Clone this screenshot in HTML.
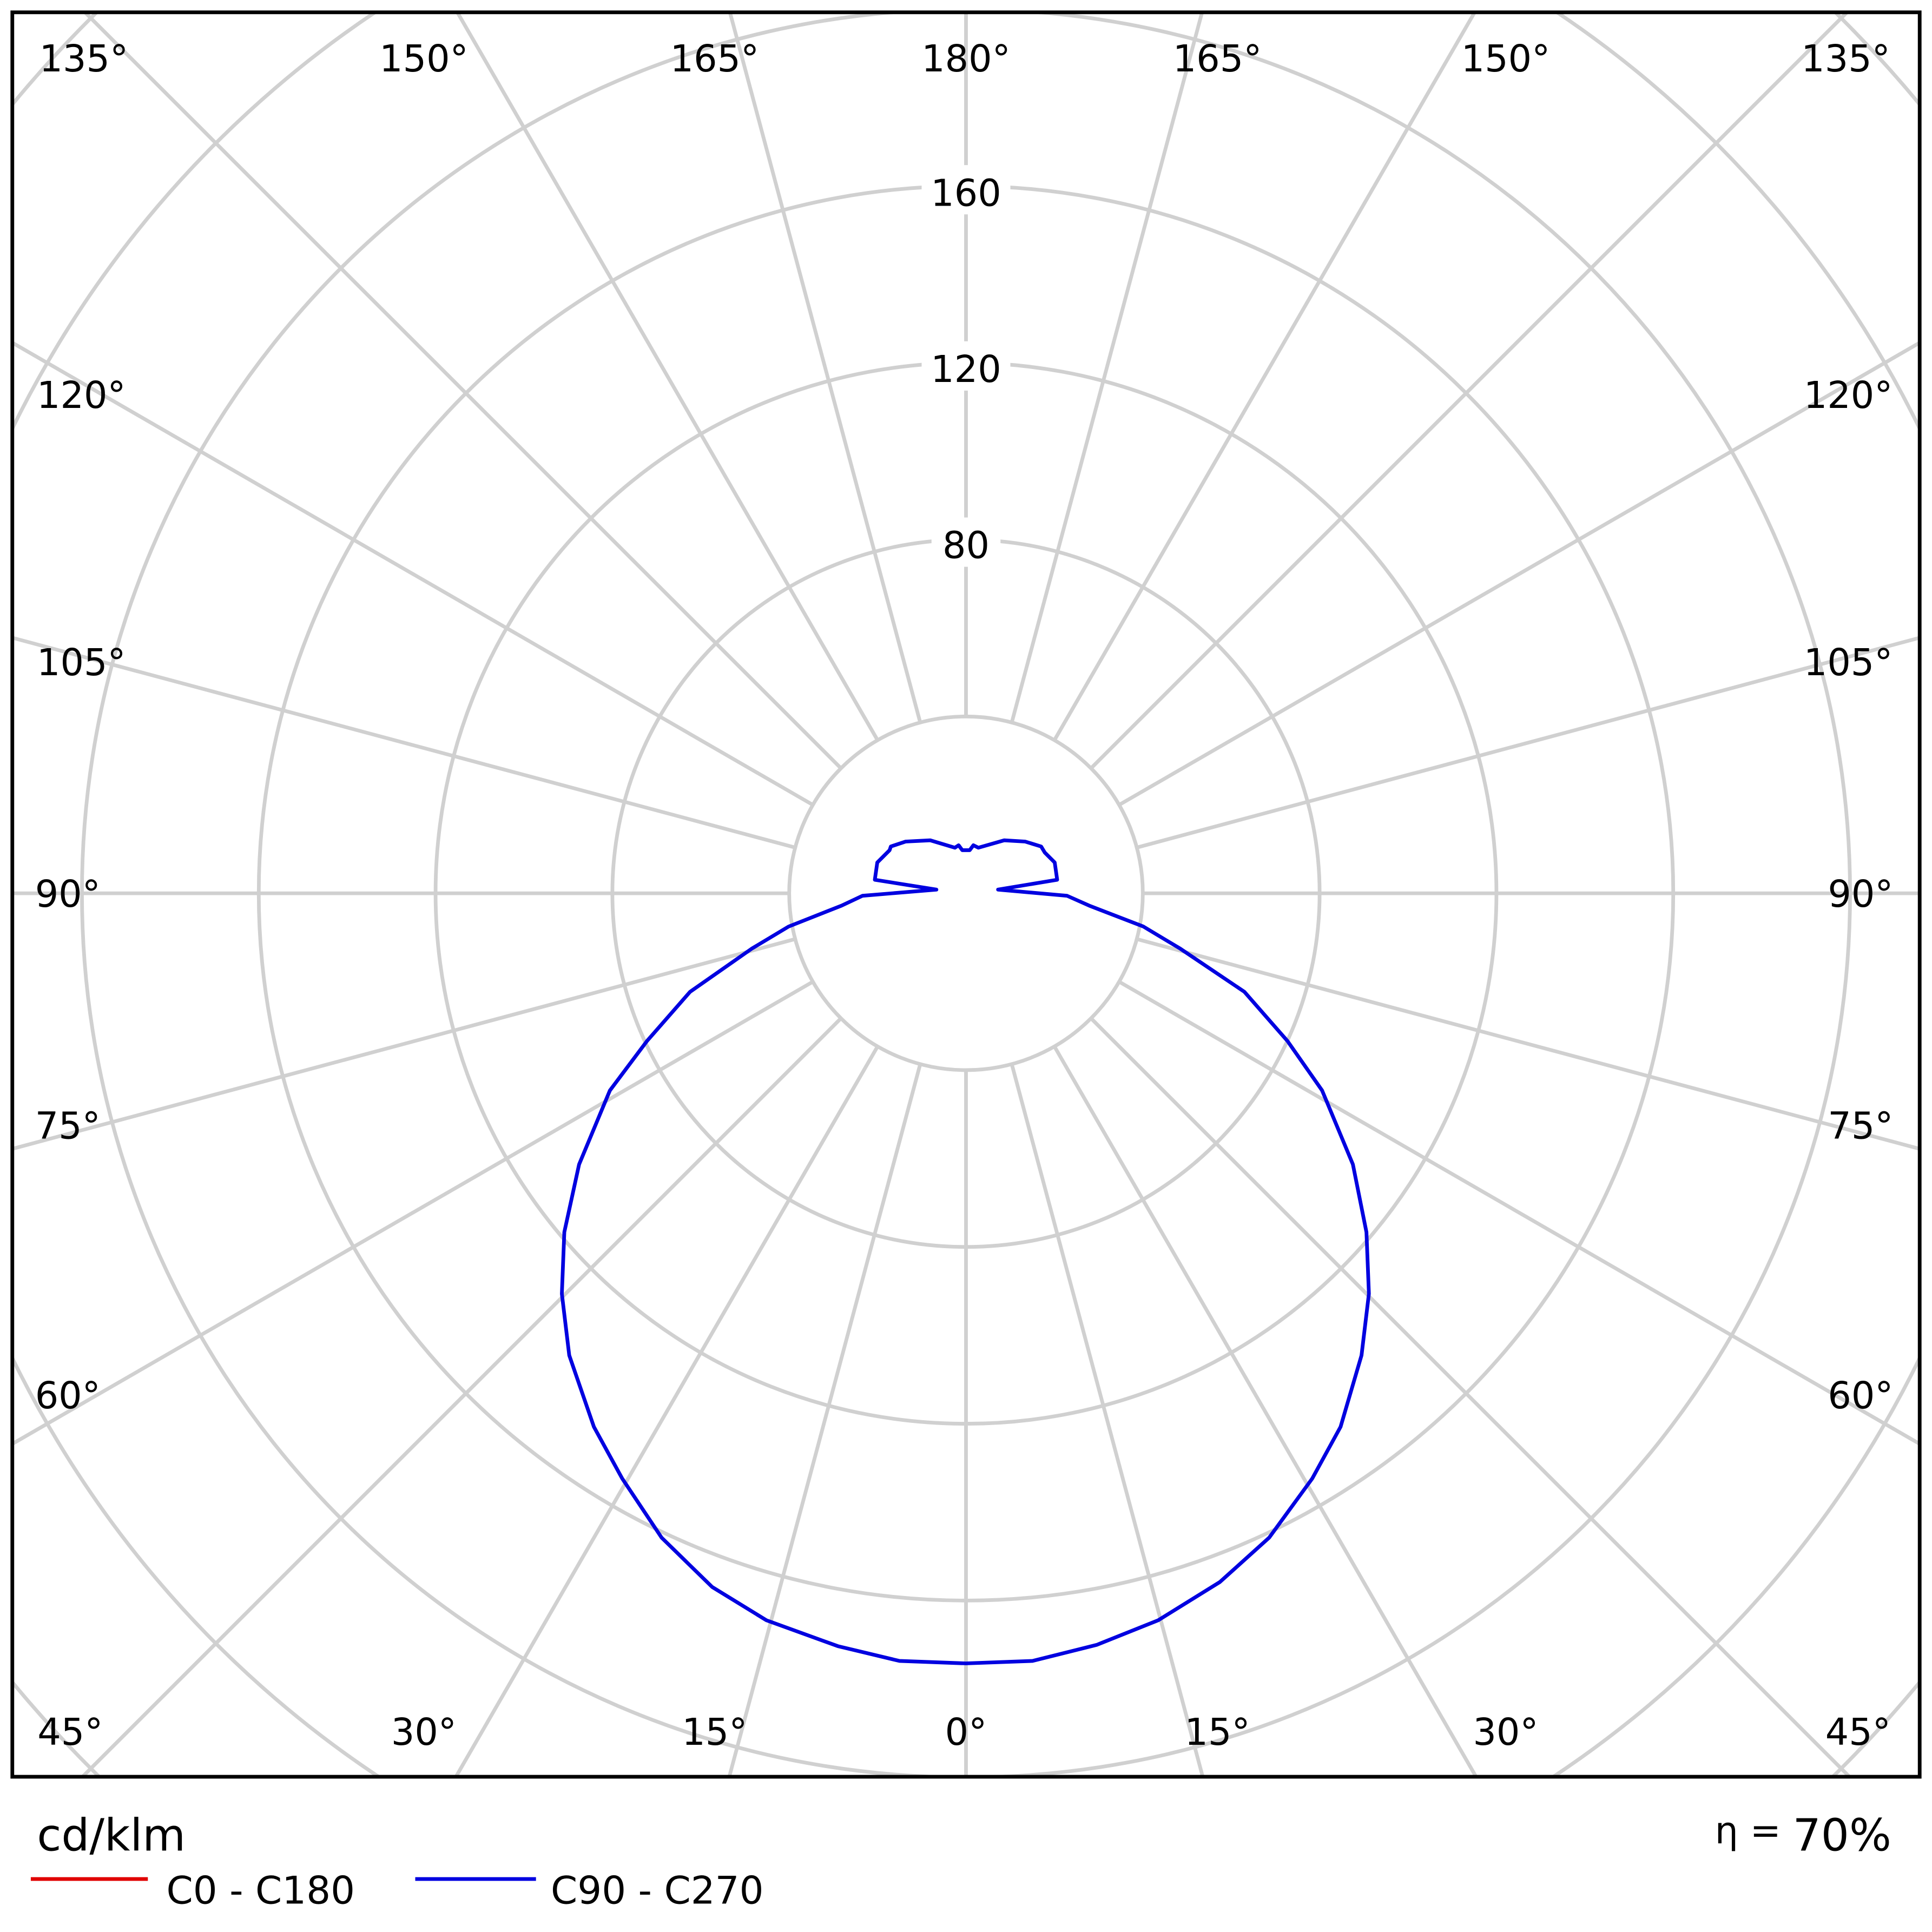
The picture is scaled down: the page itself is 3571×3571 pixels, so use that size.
<!DOCTYPE html>
<html><head><style>html,body{margin:0;padding:0;background:#fff;width:3571px;height:3571px;overflow:hidden;position:relative}svg{display:block;position:absolute;left:0;top:0}</style></head>
<body>
<svg xmlns="http://www.w3.org/2000/svg" width="3571" height="3571" viewBox="0 0 1568 1568">
<defs><clipPath id="c"><rect x="10" y="10" width="1548" height="1432"/></clipPath></defs>
<rect width="1568" height="1568" fill="#fff"/>
<g clip-path="url(#c)" stroke="#d0d0d0" stroke-width="3" fill="none">
<g transform="translate(784,725)">
<circle r="143.5"/><circle r="287"/><circle r="430.5"/><circle r="574"/><circle r="717.5"/><circle r="861"/><circle r="1004.5"/>
<g>
<line x1="0" y1="143.5" x2="0" y2="1300" transform="rotate(0)"/>
<line x1="0" y1="143.5" x2="0" y2="1300" transform="rotate(15)"/>
<line x1="0" y1="143.5" x2="0" y2="1300" transform="rotate(30)"/>
<line x1="0" y1="143.5" x2="0" y2="1300" transform="rotate(45)"/>
<line x1="0" y1="143.5" x2="0" y2="1300" transform="rotate(60)"/>
<line x1="0" y1="143.5" x2="0" y2="1300" transform="rotate(75)"/>
<line x1="0" y1="143.5" x2="0" y2="1300" transform="rotate(90)"/>
<line x1="0" y1="143.5" x2="0" y2="1300" transform="rotate(105)"/>
<line x1="0" y1="143.5" x2="0" y2="1300" transform="rotate(120)"/>
<line x1="0" y1="143.5" x2="0" y2="1300" transform="rotate(135)"/>
<line x1="0" y1="143.5" x2="0" y2="1300" transform="rotate(150)"/>
<line x1="0" y1="143.5" x2="0" y2="1300" transform="rotate(165)"/>
<line x1="0" y1="143.5" x2="0" y2="1300" transform="rotate(180)"/>
<line x1="0" y1="143.5" x2="0" y2="1300" transform="rotate(195)"/>
<line x1="0" y1="143.5" x2="0" y2="1300" transform="rotate(210)"/>
<line x1="0" y1="143.5" x2="0" y2="1300" transform="rotate(225)"/>
<line x1="0" y1="143.5" x2="0" y2="1300" transform="rotate(240)"/>
<line x1="0" y1="143.5" x2="0" y2="1300" transform="rotate(255)"/>
<line x1="0" y1="143.5" x2="0" y2="1300" transform="rotate(270)"/>
<line x1="0" y1="143.5" x2="0" y2="1300" transform="rotate(285)"/>
<line x1="0" y1="143.5" x2="0" y2="1300" transform="rotate(300)"/>
<line x1="0" y1="143.5" x2="0" y2="1300" transform="rotate(315)"/>
<line x1="0" y1="143.5" x2="0" y2="1300" transform="rotate(330)"/>
<line x1="0" y1="143.5" x2="0" y2="1300" transform="rotate(345)"/>
</g></g></g>
<g font-family="DejaVu Sans, Liberation Sans, sans-serif" font-size="30" fill="#000" text-anchor="middle">
<rect x="748" y="134" width="72" height="40" fill="#fff"/><text x="784" y="167">160</text>
<rect x="748" y="277" width="72" height="40" fill="#fff"/><text x="784" y="310">120</text>
<rect x="756" y="420" width="56" height="40" fill="#fff"/><text x="784" y="453">80</text>
<text x="68" y="58">135°</text><text x="344" y="58">150°</text><text x="580" y="58">165°</text><text x="784" y="58">180°</text><text x="988" y="58">165°</text><text x="1222" y="58">150°</text><text x="1498" y="58">135°</text>
<text x="66" y="331">120°</text><text x="66" y="548">105°</text><text x="55" y="736">90°</text><text x="55" y="924">75°</text><text x="55" y="1143">60°</text>
<text x="1500" y="331">120°</text><text x="1500" y="548">105°</text><text x="1510" y="736">90°</text><text x="1510" y="924">75°</text><text x="1510" y="1143">60°</text>
<text x="57" y="1416">45°</text><text x="344" y="1416">30°</text><text x="580" y="1416">15°</text><text x="784" y="1416">0°</text><text x="988" y="1416">15°</text><text x="1222" y="1416">30°</text><text x="1508" y="1416">45°</text>
</g>
<path fill="none" stroke="#0000e0" stroke-width="3" stroke-linejoin="round" d="M760,722 L700,727 L683,735 L640,752 L610,770 L560,805 L525,845 L495,885 L470,945 L458,1000 L456,1050 L462,1100 L482,1158 L505,1200 L537,1248 L578,1288 L622,1315 L680,1336 L730,1348 L784,1350 L838,1348 L890,1335 L940,1315 L990,1284 L1030,1248 L1065,1200 L1088,1158 L1105,1100 L1111,1050 L1109,1000 L1098,945 L1073,885 L1045,845 L1010,805 L958,770 L928,752 L884,735 L866,727 L810,722 L858,714 L856,700 L848,692 L845,687 L832,683 L815,682 L794,688 L790,686 L787,690 L781,690 L778,686 L775,688 L755,682 L735,683 L723,687 L722,690 L712,700 L710,714 Z"/>
<rect x="10" y="10" width="1548" height="1432" fill="none" stroke="#000" stroke-width="3"/>
<g font-family="DejaVu Sans, Liberation Sans, sans-serif" fill="#000">
<text x="30" y="1502" font-size="36">cd/klm</text>
<text x="1535" y="1502" font-size="36" text-anchor="end"><tspan font-size="30" dy="-6">η = </tspan><tspan dy="6">70%</tspan></text>
<line x1="25" y1="1525" x2="120" y2="1525" stroke="#e00000" stroke-width="3"/>
<text x="135" y="1545" font-size="31">C0 - C180</text>
<line x1="337" y1="1525" x2="435" y2="1525" stroke="#0000e0" stroke-width="3"/>
<text x="447" y="1545" font-size="31">C90 - C270</text>
</g>
</svg>
</body></html>
